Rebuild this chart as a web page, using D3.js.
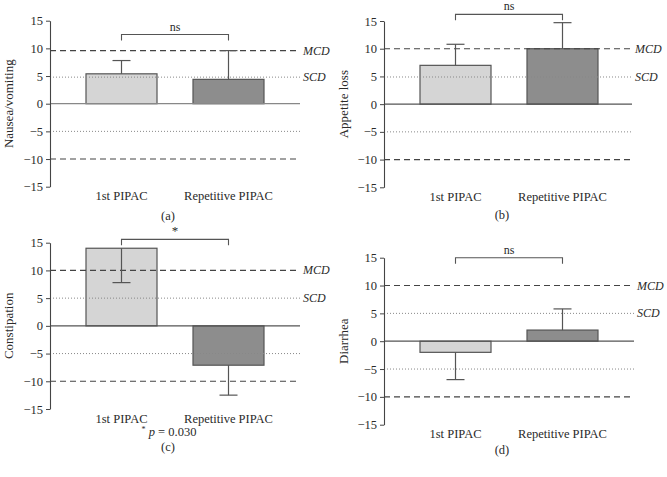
<!DOCTYPE html>
<html><head><meta charset="utf-8">
<script src="https://cdn.jsdelivr.net/npm/d3@7"></script>
<style>body{margin:0;background:#fff}svg{display:block;font-family:"Liberation Serif","DejaVu Serif",serif}</style>
</head><body><svg id="c" width="667" height="477"></svg>
<script>
const categories = ["1st PIPAC", "Repetitive PIPAC"];
const yTicks = [15, 10, 5, 0, -5, -10, -15];
const panelLetters = ["(a)", "(b)", "(c)", "(d)"];
const yTitles = ["Nausea/vomiting", "Appetite loss", "Constipation", "Diarrhea"];
const nauseaMeans = [5.4, 4.4];
const nauseaErr = [7.8, 9.6];
const appetiteMeans = [7.0, 10.0];
const appetiteErr = [10.8, 14.7];
const constipationMeans = [14.0, -7.1];
const constipationErr = [7.8, -12.5];
const diarrheaMeans = [-2.0, 2.0];
const diarrheaErr = [-6.9, 5.8];
const mcdValues = [9.6, 10, 10, 10];
const scdValues = [4.8, 4.9, 5, 5];
const lowerDash = [-10, -10, -10, -10];
const lowerDot = [-5, -5, -5, -5];
const sigLabels = ["ns", "ns", "*", "ns"];
const bracketLevels = [12.5, 16.2, 15.6, 15.0];
const pNote = "p = 0.030";

const means = [nauseaMeans, appetiteMeans, constipationMeans, diarrheaMeans];
const errs = [nauseaErr, appetiteErr, constipationErr, diarrheaErr];
// layout
const geo = [
  {ax: 50, top: 20.7, bot: 186.7, right: 300, titleX: 13, letterDy: 33},
  {ax: 384, top: 21, bot: 187.3, right: 632, titleX: 348, letterDy: 32},
  {ax: 50, top: 242.7, bot: 409, right: 300, titleX: 13, letterDy: 42},
  {ax: 384, top: 257.7, bot: 424.7, right: 634, titleX: 348, letterDy: 29}
];
const svg = d3.select("#c");
const fill = ["#d5d5d5", "#8d8d8d"];
const txt = "#2a2a2a";
geo.forEach((g, i) => {
  const y = d3.scaleLinear().domain([-15, 15]).range([g.bot, g.top]);
  const x = d3.scaleBand().domain(categories).range([g.ax + 36, g.ax + 214]).paddingInner(0.3364).paddingOuter(0);
  const G = svg.append("g");
  const refs = [
    {v: mcdValues[i], dash: "6,4", col: "#444", w: 1.1, lab: "MCD"},
    {v: scdValues[i], dash: "1,2", col: "#888", w: 1, lab: "SCD"},
    {v: lowerDot[i], dash: "1,2", col: "#888", w: 1},
    {v: lowerDash[i], dash: "6,4", col: "#444", w: 1.1}
  ];
  G.selectAll("rect.bar").data(categories).join("rect")
    .attr("x", d => x(d))
    .attr("width", x.bandwidth())
    .attr("y", (d, j) => y(Math.max(0, means[i][j])))
    .attr("height", (d, j) => Math.abs(y(means[i][j]) - y(0)))
    .attr("fill", (d, j) => fill[j])
    .attr("stroke", "#555").attr("stroke-width", 1.2);
  refs.forEach(r => {
    G.append("line").attr("x1", g.ax).attr("x2", g.right)
      .attr("y1", y(r.v)).attr("y2", y(r.v))
      .attr("stroke", r.col).attr("stroke-width", r.w).attr("stroke-dasharray", r.dash);
    if (r.lab) G.append("text").attr("x", g.right + 3).attr("y", y(r.v) + 4)
      .attr("font-size", 12).attr("font-style", "italic").attr("fill", txt).text(r.lab);
  });
  G.append("line").attr("x1", g.ax).attr("x2", g.right).attr("y1", y(0)).attr("y2", y(0))
    .attr("stroke", i === 0 ? "#888" : "#555").attr("stroke-width", 1.2);
  categories.forEach((c, j) => {
    const cx = x(c) + x.bandwidth() / 2;
    G.append("line").attr("x1", cx).attr("x2", cx).attr("y1", y(means[i][j])).attr("y2", y(errs[i][j]))
      .attr("stroke", "#555").attr("stroke-width", 1.2);
    G.append("line").attr("x1", cx - 9).attr("x2", cx + 9).attr("y1", y(errs[i][j])).attr("y2", y(errs[i][j]))
      .attr("stroke", "#555").attr("stroke-width", 1.2);
  });
  const axis = d3.axisLeft(y).tickValues(yTicks).tickSize(4).tickSizeOuter(0).tickPadding(3)
    .tickFormat(d3.format("d"));
  const A = G.append("g").attr("transform", `translate(${g.ax},0)`).call(axis);
  A.select(".domain").attr("stroke", "#444").attr("stroke-width", 1.1);
  A.selectAll(".tick line").attr("stroke", "#444");
  A.selectAll(".tick text").attr("font-size", 12.5).attr("fill", txt)
    .attr("font-family", '"Liberation Serif",serif');
  categories.forEach(c => {
    G.append("text").attr("x", x(c) + x.bandwidth() / 2).attr("y", g.bot + 13.5)
      .attr("text-anchor", "middle").attr("font-size", 12.5).attr("fill", txt).text(c);
  });
  G.append("text").attr("transform", `translate(${g.titleX},${y(0)}) rotate(-90)`)
    .attr("text-anchor", "middle").attr("font-size", 13).attr("fill", txt).text(yTitles[i]);
  const c1 = x(categories[0]) + x.bandwidth() / 2, c2 = x(categories[1]) + x.bandwidth() / 2;
  const by = y(bracketLevels[i]);
  G.append("path").attr("d", `M${c1},${by + 6}V${by}H${c2}V${by + 6}`)
    .attr("fill", "none").attr("stroke", "#555").attr("stroke-width", 1.1);
  G.append("text").attr("x", (c1 + c2) / 2).attr("y", by - 4).attr("text-anchor", "middle")
    .attr("font-size", sigLabels[i] === "*" ? 13 : 12).attr("fill", txt).text(sigLabels[i]);
  const mid = (c1 + c2) / 2 - 7;
  G.append("text").attr("x", mid).attr("y", g.bot + g.letterDy).attr("text-anchor", "middle")
    .attr("font-size", 12.5).attr("fill", txt).text(panelLetters[i]);
  if (i === 2) {
    const t = G.append("text").attr("x", mid + 1).attr("y", g.bot + 27).attr("text-anchor", "middle")
      .attr("font-size", 12.5).attr("fill", txt);
    t.append("tspan").attr("font-size", 8).attr("dy", -4).text("*");
    t.append("tspan").attr("dy", 4).attr("font-style", "italic").text(" p");
    t.append("tspan").text(pNote.slice(1));
  }
});
</script></body></html>
